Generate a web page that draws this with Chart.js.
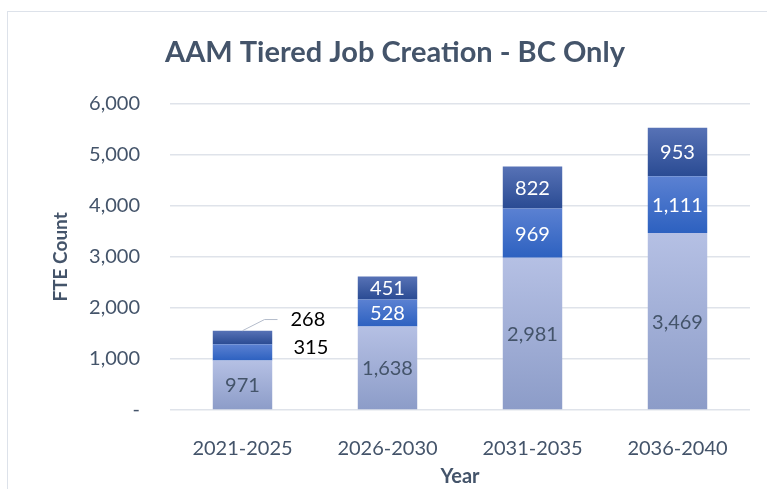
<!DOCTYPE html>
<html>
<head>
<meta charset="utf-8">
<script src="https://cdn.jsdelivr.net/npm/chart.js@4.4.1/dist/chart.umd.min.js"></script>
<style>
  html, body { margin: 0; padding: 0; background: #fff; }
  #frame {
    position: absolute; left: 7px; top: 11px; width: 800px; height: 520px;
    border: 1.5px solid #dde2ea; box-sizing: border-box;
  }
  #wrap { position: absolute; left: 0; top: 0; width: 767px; height: 489px; }
</style>
</head>
<body>
<div id="frame"></div>
<div id="wrap"><canvas id="chart" width="767" height="489"></canvas></div>
<script>
const years = ["2021-2025", "2026-2030", "2031-2035", "2036-2040"];
const tier1 = [971, 1638, 2981, 3469];
const tier2 = [315, 528, 969, 1111];
const tier3 = [268, 451, 822, 953];
const yTicks = [0, 1000, 2000, 3000, 4000, 5000, 6000];

const textColor = "#44546a";
const font = "Lato, 'Open Sans', sans-serif";

// top/bottom colours of each segment's vertical gradient
const shades = [
  ["#b5c0e4", "#8c9cc8"],
  ["#5b81d2", "#2d61c0"],
  ["#5772b6", "#2a4b93"],
];
const series = [tier1, tier2, tier3];

function segmentFill(i) {
  return (c) => {
    const { chart, dataIndex } = c;
    const y = chart.scales.y;
    if (!y || !chart.chartArea) return shades[i][1];
    let base = 0;
    for (let k = 0; k < i; k++) base += series[k][dataIndex];
    const top = y.getPixelForValue(base + series[i][dataIndex]);
    const bottom = y.getPixelForValue(base);
    const g = chart.ctx.createLinearGradient(0, top, 0, bottom);
    g.addColorStop(0, shades[i][0]);
    g.addColorStop(1, shades[i][1]);
    return g;
  };
}

const fmt = (v) => v.toLocaleString("en-US");

const segmentLabelPlugin = {
  id: "segmentLabelPlugin",
  afterDatasetsDraw(chart) {
    const { ctx } = chart;
    ctx.save();
    ctx.font = `20px ${font}`;
    ctx.textAlign = "center";
    ctx.textBaseline = "middle";
    chart.data.datasets.forEach((ds, i) => {
      const meta = chart.getDatasetMeta(i);
      meta.data.forEach((bar, j) => {
        const text = fmt(ds.data[j]);
        const mid = (bar.y + bar.base) / 2;
        if (j === 0 && i > 0) {
          // small first bar: labels sit outside, right of the bar
          ctx.fillStyle = "#000";
          ctx.textAlign = "left";
          if (i === 1) {
            ctx.fillText(text, bar.x + 51, mid - 5);
          } else {
            ctx.fillText(text, bar.x + 48, mid - 18);
            ctx.strokeStyle = "#b4bccb";
            ctx.lineWidth = 1;
            ctx.beginPath();
            ctx.moveTo(bar.x, bar.y);
            ctx.lineTo(bar.x + 22, mid - 18);
            ctx.lineTo(bar.x + 35, mid - 18);
            ctx.stroke();
          }
          ctx.textAlign = "center";
          return;
        }
        ctx.fillStyle = i === 0 ? textColor : "#ffffff";
        ctx.fillText(text, bar.x, mid + 1);
      });
    });
    ctx.restore();
  },
};

const datasetDefs = series.map((vals, i) => ({
  label: "Tier " + (i + 1),
  data: vals,
  backgroundColor: segmentFill(i),
  borderWidth: 0,
  barPercentage: 0.41,
  categoryPercentage: 1,
}));

new Chart(document.getElementById("chart"), {
  type: "bar",
  data: { labels: years, datasets: datasetDefs },
  plugins: [segmentLabelPlugin],
  options: {
    responsive: false,
    animation: false,
    events: [],
    layout: { padding: { top: 0, right: 17, bottom: 0, left: 40 } },
    plugins: {
      legend: { display: false },
      tooltip: { enabled: false },
      title: {
        display: true,
        text: "AAM Tiered Job Creation - BC Only",
        color: textColor,
        font: { family: font, size: 29, weight: "bold", lineHeight: 1.2 },
        padding: { top: 35, bottom: 34 },
      },
    },
    scales: {
      x: {
        stacked: true,
        grid: { display: false },
        border: { display: false },
        ticks: { color: textColor, font: { family: font, size: 20 }, padding: 19 },
        title: {
          display: true,
          text: "Year",
          color: textColor,
          font: { family: font, size: 20, weight: "bold", lineHeight: 1.2 },
          padding: { top: 0, bottom: 0 },
        },
        afterFit(scale) { scale.height = 79; },
      },
      y: {
        stacked: true,
        min: 0,
        max: 6000,
        afterBuildTicks(scale) { scale.ticks = yTicks.map((v) => ({ value: v })); },
        grid: { color: "#dfe3ea", lineWidth: 1.5, drawTicks: false },
        border: { display: false },
        ticks: {
          color: textColor,
          font: { family: font, size: 20 },
          padding: 30,
          callback: (v) => (v === 0 ? "-" : fmt(v)),
        },
        title: {
          display: true,
          text: "FTE Count",
          color: textColor,
          font: { family: font, size: 19, weight: "bold", lineHeight: 1.2 },
          padding: { top: 9, bottom: 9 },
        },
        afterFit(scale) { scale.width = 130; },
      },
    },
  },
});
</script>
</body>
</html>
